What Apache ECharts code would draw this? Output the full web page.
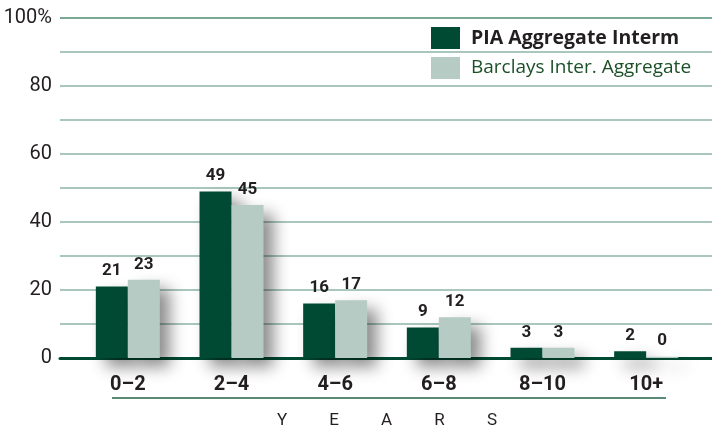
<!DOCTYPE html>
<html>
<head>
<meta charset="utf-8">
<script src="https://cdn.jsdelivr.net/npm/echarts@6/dist/echarts.min.js"></script>
<style>
  html, body { margin: 0; padding: 0; background: #fff; }
  #chart { width: 712px; height: 426px; }
</style>
</head>
<body>
<div id="chart"></div>
<script>
// duration buckets (years)
var categories = ['0\u20132', '2\u20134', '4\u20136', '6\u20138', '8\u201310', '10+'];
var piaValues = [21, 49, 16, 9, 3, 2];
var barclaysValues = [23, 45, 17, 12, 3, 0.4];
var yTicks = [0, 20, 40, 60, 80, 100];
var axisTitleLetters = ['Y', 'E', 'A', 'R', 'S'];

var FONT = 'Roboto, "Open Sans", sans-serif';
var LEGEND_FONT = '"Open Sans", Roboto, sans-serif';
var darkGreen = '#004a33';
var lightGreen = '#b5cbc3';

var barShadow = {
    shadowColor: 'rgba(0, 0, 0, 0.45)',
    shadowBlur: 16,
    shadowOffsetX: 10,
    shadowOffsetY: 9
};

var gridColors = [];
for (var i = 0; i < 10; i++) gridColors.push('#8cb5a4');
gridColors.push('#4f8a72');

var myChart = echarts.init(document.getElementById('chart'));
var option;

option = {
    animation: false,
    textStyle: { fontFamily: FONT },
    grid: [
        { left: 60, right: 0, top: 18, bottom: 68, outerBoundsMode: 'none' },   // gridlines + y labels
        { left: 76, right: 14, top: 18, bottom: 68, outerBoundsMode: 'none' }   // bars
    ],
    legend: {
        orient: 'vertical',
        left: 431,
        top: 27,
        padding: 0,
        itemWidth: 29,
        itemHeight: 22,
        itemGap: 8,
        icon: 'rect',
        itemStyle: { shadowBlur: 0, shadowColor: 'transparent', shadowOffsetX: 0, shadowOffsetY: 0 },
        data: [
            { name: 'PIA Aggregate Interm',
              textStyle: { fontWeight: 'bold', color: '#231f20', fontSize: 19.5, fontFamily: LEGEND_FONT, padding: [0, 0, 0, 6] } },
            { name: 'Barclays Inter. Aggregate',
              textStyle: { fontWeight: 'normal', color: '#1c5128', fontSize: 19, fontFamily: LEGEND_FONT, padding: [0, 0, 0, 6] } }
        ]
    },
    xAxis: [
        {
            gridIndex: 0, type: 'value', min: 0, max: 1,
            axisLine: { show: true, onZero: false, lineStyle: { color: darkGreen, width: 3 } },
            axisTick: { show: false }, axisLabel: { show: false }, splitLine: { show: false }
        },
        {
            gridIndex: 1, type: 'category', data: categories,
            axisLine: { show: false }, axisTick: { show: false },
            axisLabel: { margin: 17, fontSize: 20, fontWeight: 'bold', color: '#231f20', fontFamily: FONT },
            name: axisTitleLetters.join('          '),
            nameLocation: 'middle',
            nameGap: 54,
            nameTextStyle: { fontSize: 17, color: '#231f20', fontFamily: FONT }
        }
    ],
    yAxis: [
        {
            gridIndex: 0, type: 'value', min: 0, max: 100, interval: 10,
            axisLine: { show: false }, axisTick: { show: false },
            axisLabel: {
                margin: 8, fontSize: 20, color: '#231f20', fontFamily: FONT,
                formatter: function (value) {
                    if (yTicks.indexOf(value) < 0) return '';
                    return value === 100 ? '100%' : String(value);
                }
            },
            splitLine: { show: true, lineStyle: { color: gridColors, width: 1.6 } }
        },
        {
            gridIndex: 1, type: 'value', min: 0, max: 100, show: false,
            splitLine: { show: false }
        }
    ],
    graphic: [
        {
            type: 'line',
            shape: { x1: 112, y1: 398, x2: 666, y2: 398 },
            style: { stroke: '#5a8a76', lineWidth: 2 }
        }
    ],
    series: [
        {
            name: 'PIA Aggregate Interm',
            type: 'bar',
            xAxisIndex: 1, yAxisIndex: 1,
            barWidth: 32,
            barGap: '0%',
            data: piaValues,
            itemStyle: Object.assign({ color: darkGreen }, barShadow),
            label: {
                show: true, position: 'top', distance: 7,
                fontSize: 17, fontWeight: 'bold', color: '#231f20', fontFamily: FONT,
                formatter: function (p) { return Math.round(p.value); }
            }
        },
        {
            name: 'Barclays Inter. Aggregate',
            type: 'bar',
            xAxisIndex: 1, yAxisIndex: 1,
            barWidth: 32,
            barGap: '0%',
            data: barclaysValues,
            itemStyle: Object.assign({ color: lightGreen }, barShadow),
            label: {
                show: true, position: 'top', distance: 7,
                fontSize: 17, fontWeight: 'bold', color: '#231f20', fontFamily: FONT,
                formatter: function (p) { return Math.round(p.value); }
            }
        }
    ]
};
option && myChart.setOption(option);
</script>
</body>
</html>
